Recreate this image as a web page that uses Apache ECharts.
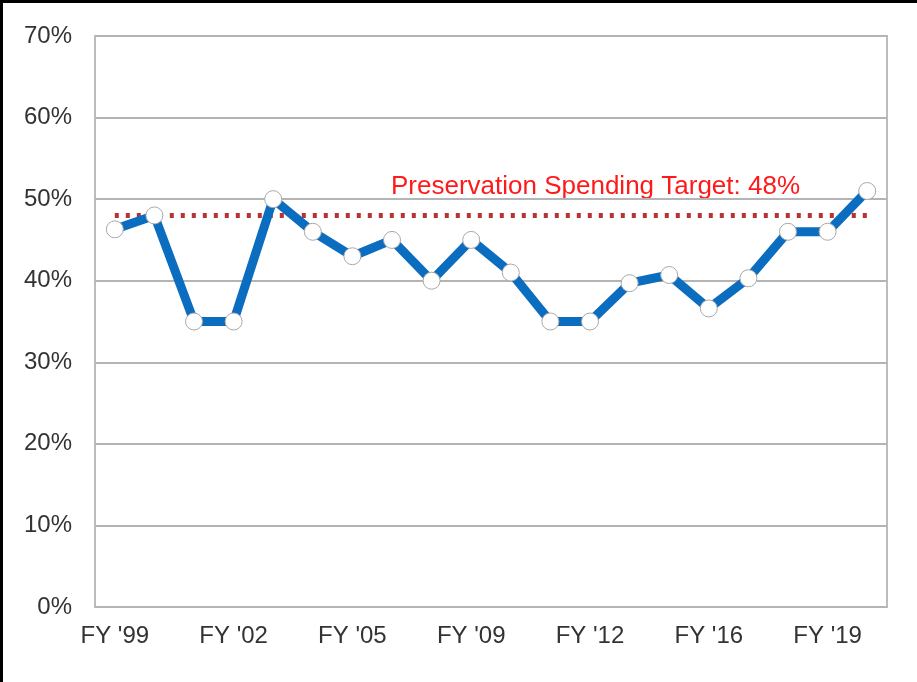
<!DOCTYPE html>
<html>
<head>
<meta charset="utf-8">
<script src="https://cdn.jsdelivr.net/npm/echarts@6/dist/echarts.min.js"></script>
<style>
  html, body { margin: 0; padding: 0; background: #000; }
  #main { position: absolute; left: 3px; top: 3px; width: 914px; height: 679px; background: #fff; }
</style>
</head>
<body>
<div id="main"></div>
<script>
// fiscal years shown on the axis (only every third one is labelled)
var years = ["FY '99", "FY '00", "FY '01", "FY '02", "FY '03", "FY '04", "FY '05", "FY '07", "FY '08", "FY '09",
  "FY '10", "FY '11", "FY '12", "FY '14", "FY '15", "FY '16", "FY '17", "FY '18", "FY '19", "FY '20"];
// share of spending going to preservation, in %
var shares = [46.3, 48, 35, 35, 50, 46, 43, 45, 40, 45, 41, 35, 35, 39.7, 40.7, 36.6, 40.3, 46, 46, 51];
var target = 48;
var targetLabel = 'Preservation Spending Target: 48%';
var yTicks = [0, 70, 10]; // min, max, step

var myChart = echarts.init(document.getElementById('main'));

var option = {
  animation: false,
  grid: {
    left: 92,
    right: 30,
    top: 33,
    bottom: 75,
    show: true,
    borderColor: '#bcbcbc',
    borderWidth: 2
  },
  xAxis: {
    type: 'category',
    data: years,
    boundaryGap: true,
    axisLine: { show: false },
    axisTick: { show: false },
    axisLabel: {
      interval: 2,
      margin: 17,
      color: '#333',
      fontSize: 24,
      fontFamily: 'Liberation Sans'
    }
  },
  yAxis: {
    type: 'value',
    min: yTicks[0],
    max: yTicks[1],
    interval: yTicks[2],
    axisLine: { show: false },
    axisTick: { show: false },
    axisLabel: {
      formatter: '{value}%',
      margin: 23,
      color: '#333',
      fontSize: 24,
      fontFamily: 'Liberation Sans'
    },
    splitLine: {
      lineStyle: { color: '#b4b4b4', width: 2 }
    }
  },
  graphic: [{
    type: 'text',
    left: 388,
    top: 171,
    style: {
      text: targetLabel,
      fill: '#ff1a1a',
      font: '26px "Liberation Sans"'
    }
  }],
  series: [{
    name: 'Preservation',
    type: 'line',
    data: shares,
    symbol: 'circle',
    symbolSize: 17,
    lineStyle: { color: '#0b6dbf', width: 9 },
    itemStyle: { color: '#fff', borderColor: '#a8a8a8', borderWidth: 1 },
    z: 3,
    markLine: {
      silent: true,
      symbol: 'none',
      label: { show: false },
      lineStyle: { color: '#b73333', width: 5, type: [4, 7], cap: 'butt' },
      z: 2,
      data: [[
        { coord: [0, target] },
        { coord: [years.length - 1, target] }
      ]]
    }
  }]
};

myChart.setOption(option);
</script>
</body>
</html>
